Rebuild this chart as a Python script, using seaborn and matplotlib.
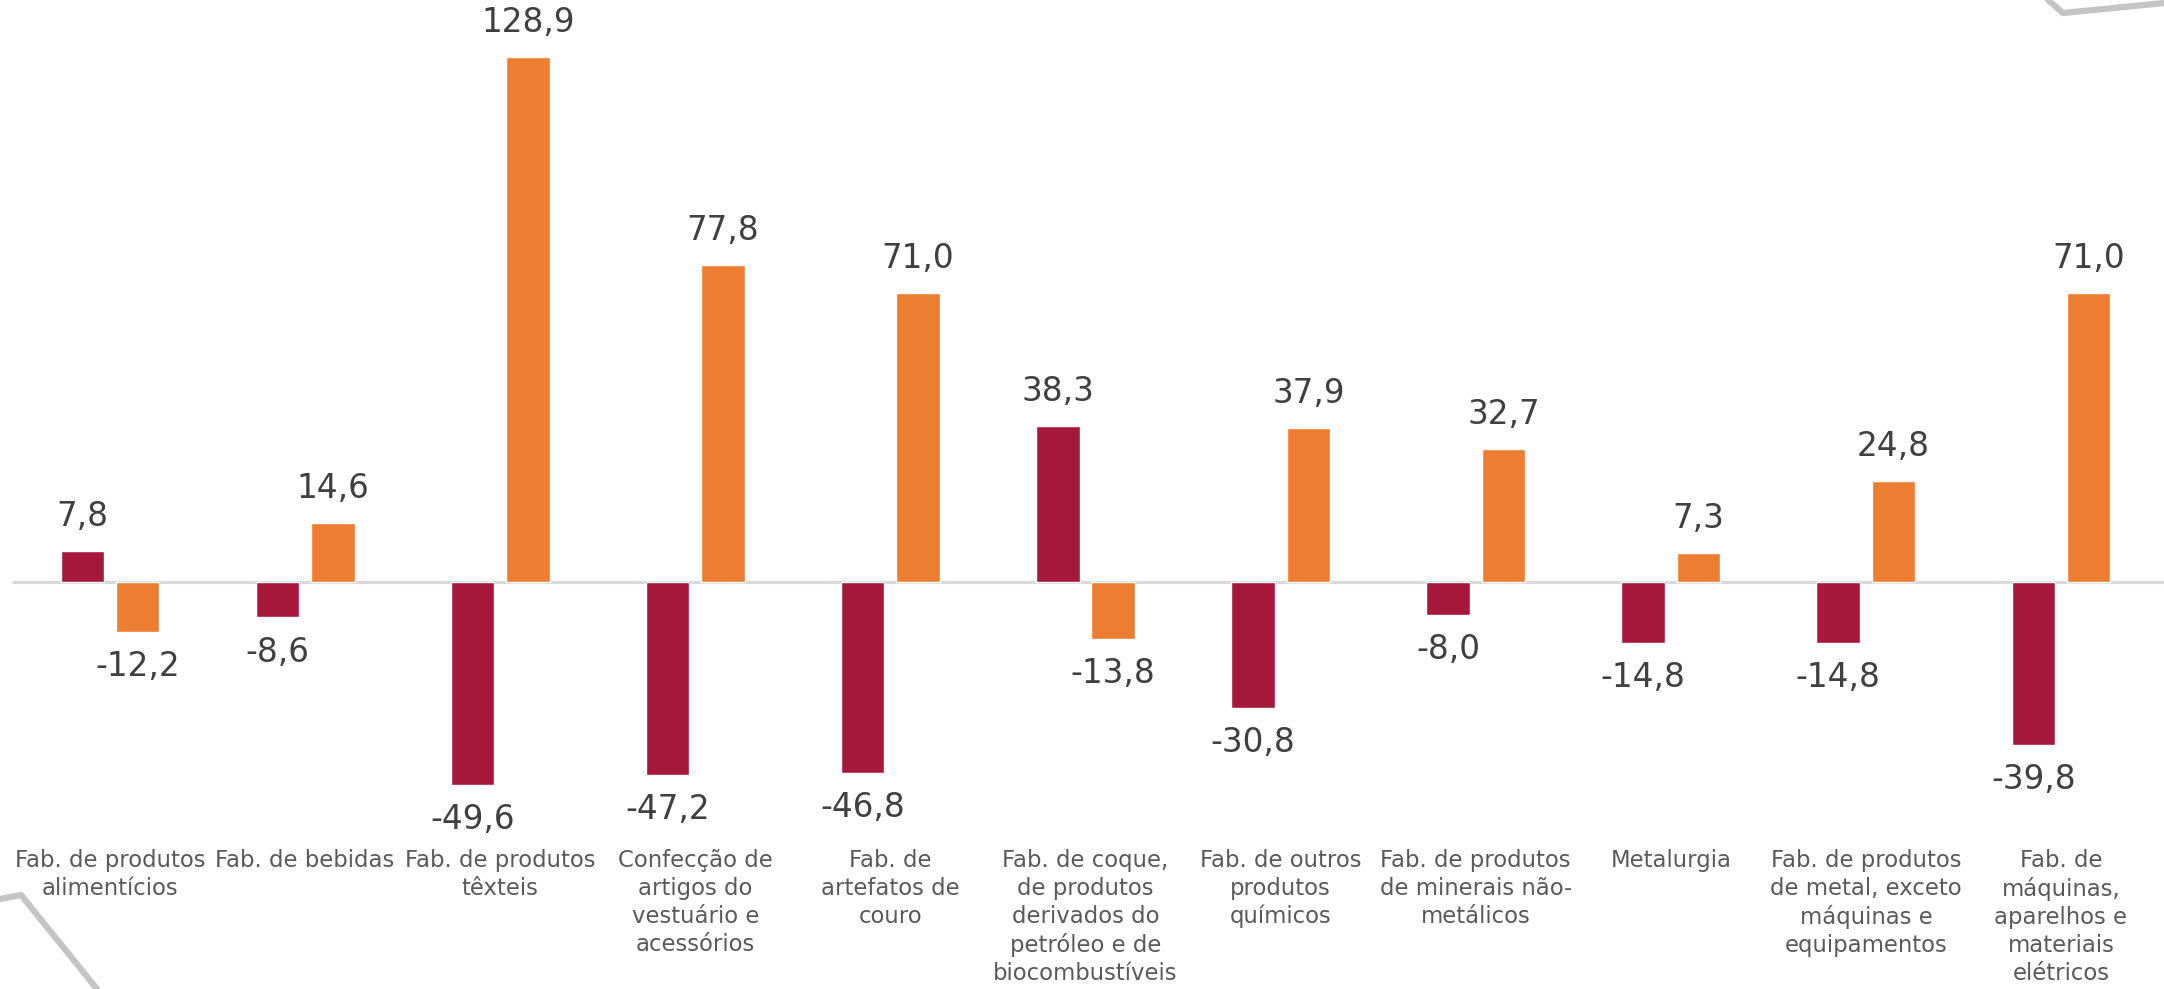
import pandas as pd
import numpy as np
import seaborn as sns
from matplotlib import pyplot as plt
from matplotlib.lines import Line2D

# categorias (rótulos do eixo x, com as quebras de linha do original)
categorias = [
    "Fab. de produtos\nalimentícios",
    "Fab. de bebidas",
    "Fab. de produtos\ntêxteis",
    "Confecção de\nartigos do\nvestuário e\nacessórios",
    "Fab. de\nartefatos de\ncouro",
    "Fab. de coque,\nde produtos\nderivados do\npetróleo e de\nbiocombustíveis",
    "Fab. de outros\nprodutos\nquímicos",
    "Fab. de produtos\nde minerais não-\nmetálicos",
    "Metalurgia",
    "Fab. de produtos\nde metal, exceto\nmáquinas e\nequipamentos",
    "Fab. de\nmáquinas,\naparelhos e\nmateriais\nelétricos",
]
serie_1 = [7.8, -8.6, -49.6, -47.2, -46.8, 38.3, -30.8, -8.0, -14.8, -14.8, -39.8]
serie_2 = [-12.2, 14.6, 128.9, 77.8, 71.0, -13.8, 37.9, 32.7, 7.3, 24.8, 71.0]
series = ["Série 1", "Série 2"]
cores = ["#A6193C", "#ED7D31"]

df = pd.DataFrame({
    "categoria": list(range(len(categorias))) * 2,
    "serie": [series[0]] * len(serie_1) + [series[1]] * len(serie_2),
    "valor": serie_1 + serie_2,
})

sns.set_style("white")
plt.rcParams["font.family"] = ["DejaVu Sans"]

fig = plt.figure(figsize=(21.64, 9.89), dpi=100)
ax = fig.add_axes([0, 0, 1, 1])

ax.axhline(0, xmin=13 / 2164, xmax=1, color="#D9D9D9", lw=2.2, zorder=0)

sns.barplot(data=df, x="categoria", y="valor", hue="serie",
            hue_order=series, palette=cores, width=0.568, gap=0.215,
            saturation=1, legend=False, ax=ax, zorder=2)

for cont, vals in zip(ax.containers, [serie_1, serie_2]):
    rotulos = [f"{v:.1f}".replace(".", ",") for v in vals]
    ax.bar_label(cont, labels=rotulos, padding=13, fontsize=23.5,
                 color="#404040")

for i, nome in enumerate(categorias):
    ax.text(i, 0.142, nome, transform=ax.get_xaxis_transform(),
            ha="center", va="top", fontsize=16.4, color="#595959",
            linespacing=1.28)

ax.set_xlim(-0.5638, 10.528)
ax.set_ylim(-99.75, 142.9)
ax.axis("off")

# molduras cinzas dos cantos do slide
cinza = "#C4C4C4"
for xs, ys in [([2048, 2063, 2164], [0, 13, 3]), ([0, 21, 97], [899, 895, 989])]:
    fig.add_artist(Line2D(np.array(xs) / 2164, 1 - np.array(ys) / 989,
                          transform=fig.transFigure, color=cinza, lw=4.5,
                          solid_joinstyle="miter"))

fig.savefig("out.png", dpi=100)
